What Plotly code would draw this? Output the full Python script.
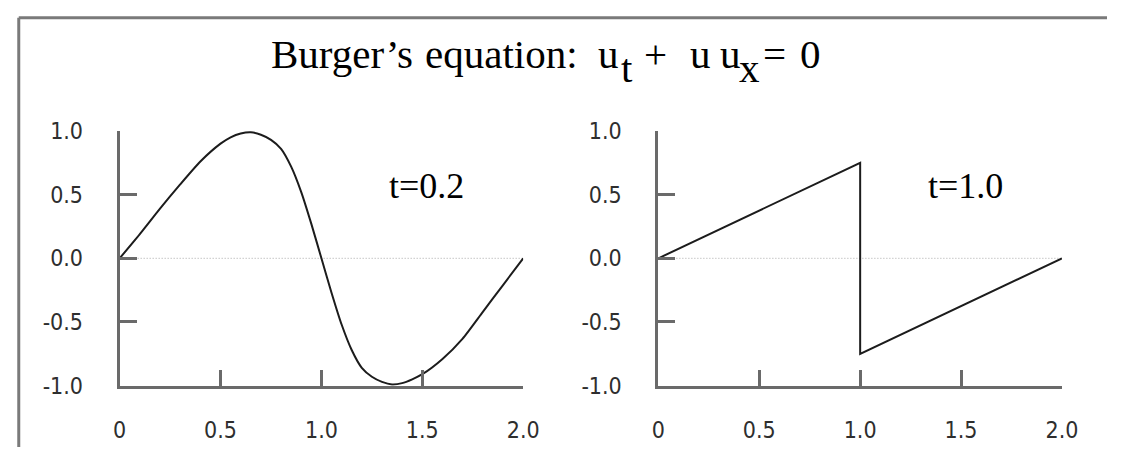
import plotly.graph_objects as go

W, H = 1123, 460

# Solution profiles u(x) at two times
x_t02 = [0.0, 0.1, 0.2, 0.3, 0.4, 0.5, 0.55, 0.6, 0.65, 0.7, 0.75, 0.8, 0.85, 0.9, 0.95, 1.0,
         1.05, 1.1, 1.15, 1.2, 1.25, 1.3, 1.35, 1.4, 1.45, 1.5, 1.6, 1.7, 1.8, 1.9, 2.0]
u_t02 = [0.0, 0.19, 0.39, 0.58, 0.76, 0.90, 0.95, 0.98, 0.99, 0.97, 0.93, 0.86, 0.72, 0.52, 0.27, 0.0,
         -0.27, -0.52, -0.72, -0.86, -0.93, -0.97, -0.99, -0.98, -0.95, -0.91, -0.79, -0.63, -0.42, -0.21, 0.0]

x_t10 = [0.0, 1.0, 1.0, 2.0]
u_t10 = [0.0, 0.75, -0.75, 0.0]

x_tickvals = [0, 0.5, 1.0, 1.5, 2.0]
x_ticktext = ["0", "0.5", "1.0", "1.5", "2.0"]
y_tickvals = [-1.0, -0.5, 0.0, 0.5, 1.0]
y_ticktext = ["-1.0", "-0.5", "0.0", "0.5", "1.0"]
panel_labels = ["t=0.2", "t=1.0"]

AXIS = "#6a6a6a"
CURVE = "#1c1c1c"
LABEL = "#2e2e2e"
TICK_FONT = dict(family="DejaVu Sans Condensed, DejaVu Sans", size=23, color=LABEL)
SERIF = "Liberation Serif"


def px_x(px):
    """pixel column -> paper x"""
    return px / W


def px_y(py):
    """pixel row -> paper y"""
    return 1 - py / H


x_domains = [[px_x(115), px_x(527)], [px_x(665), px_x(1077)]]
y_domain = [px_y(395), px_y(125)]

fig = go.Figure()

profiles = [(x_t02, u_t02, "spline"), (x_t10, u_t10, "linear")]
for i, (xs, us, shape) in enumerate(profiles):
    xa = "x" if i == 0 else "x2"
    ya = "y" if i == 0 else "y2"
    # dotted zero reference
    fig.add_trace(go.Scatter(
        x=[x_tickvals[0], x_tickvals[-1]], y=[0, 0], mode="lines",
        line=dict(color="#a8a8a8", width=1, dash="1px,2px"),
        xaxis=xa, yaxis=ya, hoverinfo="skip", showlegend=False))
    fig.add_trace(go.Scatter(
        x=xs, y=us, mode="lines",
        line=dict(color=CURVE, width=2, shape=shape, smoothing=0.6),
        xaxis=xa, yaxis=ya, hoverinfo="skip", showlegend=False))

layout = dict(
    width=W, height=H,
    margin=dict(l=0, r=0, t=0, b=0),
    paper_bgcolor="white", plot_bgcolor="white",
    showlegend=False,
)

for i in range(2):
    n = "" if i == 0 else "2"
    xo = str(3 + i)
    yo = str(3 + i)
    xname, yname = "x" + n, "y" + n
    # main axes: line, inside ticks, labels
    layout["xaxis" + n] = dict(
        domain=x_domains[i], anchor=yname, range=[0, 2],
        showline=True, linecolor=AXIS, linewidth=3,
        ticks="inside", ticklen=16, tickwidth=3, tickcolor=AXIS,
        tickmode="array", tickvals=x_tickvals, ticktext=x_ticktext,
        tickfont=TICK_FONT, ticklabelstandoff=22,
        showgrid=False, zeroline=False, fixedrange=True)
    layout["yaxis" + n] = dict(
        domain=y_domain, anchor=xname, range=[-1, 1],
        showline=True, linecolor=AXIS, linewidth=3,
        ticks="inside", ticklen=17, tickwidth=3, tickcolor=AXIS,
        tickmode="array", tickvals=y_tickvals, ticktext=y_ticktext,
        tickfont=TICK_FONT, ticklabelstandoff=29,
        showgrid=False, zeroline=False, fixedrange=True)
    # overlay axes carrying the outer half of each crossing tick
    layout["xaxis" + xo] = dict(
        domain=x_domains[i], anchor=yname, overlaying=xname, range=[0, 2],
        showline=False, ticks="outside", ticklen=16, tickwidth=3, tickcolor=AXIS,
        tickmode="array", tickvals=x_tickvals[1:], showticklabels=False,
        showgrid=False, zeroline=False, fixedrange=True)
    layout["yaxis" + yo] = dict(
        domain=y_domain, anchor=xname, overlaying=yname, range=[-1, 1],
        showline=False, ticks="outside", ticklen=17, tickwidth=3, tickcolor=AXIS,
        tickmode="array", tickvals=y_tickvals[1:], showticklabels=False,
        showgrid=False, zeroline=False, fixedrange=True)

fig.update_layout(**layout)

# frame lines along the top and left edges
fig.add_shape(type="line", xref="paper", yref="paper",
              x0=px_x(12), x1=1, y0=px_y(5), y1=px_y(5),
              line=dict(color="#7a7a7a", width=3))
fig.add_shape(type="line", xref="paper", yref="paper",
              x0=px_x(12), x1=px_x(12), y0=px_y(5), y1=0,
              line=dict(color="#7a7a7a", width=3))

# title built from pieces so subscripts keep full size
title_parts = [
    ("Burger’s", 270, False),
    ("equation:", 427, False),
    ("u", 603, False),
    ("t", 627, True),
    ("+", 650, False),
    ("u", 697, False),
    ("u", 728, False),
    ("x", 747, True),
    ("=", 772, False),
    ("0", 810, False),
]
for text, left, sub in title_parts:
    fig.add_annotation(
        text=text, xref="paper", yref="paper",
        x=px_x(left - 1), y=px_y(58 if sub else 43.5),
        xanchor="left", yanchor="middle", showarrow=False, borderpad=0,
        font=dict(family=SERIF, size=41, color="black"))

for i, lab in enumerate(panel_labels):
    fig.add_annotation(
        text=lab, xref="x" if i == 0 else "x2", yref="y" if i == 0 else "y2",
        x=1.52, y=0.57, xanchor="center", yanchor="middle", showarrow=False,
        font=dict(family=SERIF, size=36, color="black"))

fig.write_html("out.html")
